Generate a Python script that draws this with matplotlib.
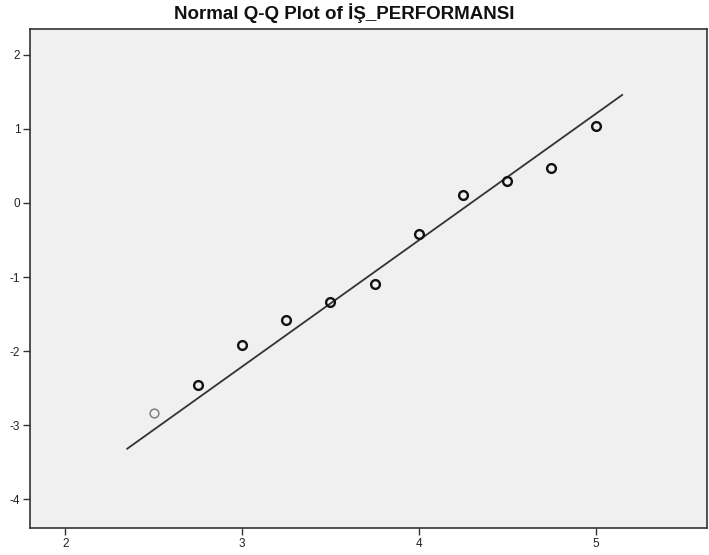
import matplotlib
matplotlib.use("Agg")
import matplotlib.pyplot as plt
import numpy as np

plt.rcParams['font.family'] = ['Liberation Sans', 'DejaVu Sans']
plt.rcParams['axes.unicode_minus'] = False

obs = [2.5, 2.75, 3.0, 3.25, 3.5, 3.75, 4.0, 4.25, 4.5, 4.75, 5.0]
expected = [-2.84, -2.46, -1.92, -1.58, -1.34, -1.09, -0.42, 0.11, 0.30, 0.47, 1.04]
counts = [1, 2, 2, 2, 2, 2, 2, 2, 2, 2, 3]   # overlapping cases -> darker rings

mean, sd = 4.295, 0.586
line_x = [2.35, 5.15]

fig = plt.figure(figsize=(7.09, 5.55), dpi=100)
ax = fig.add_axes([30/709, 27/555, 677/709, 499/555])
ax.set_facecolor('#f0f0f0')

lx = np.array(line_x)
ax.plot(lx, (lx - mean) / sd, color='#333333', lw=1.3, zorder=2)

for x, y, c in zip(obs, expected, counts):
    col = '#777777' if c == 1 else '#111111'
    ax.plot(x, y, 'o', ms=6.3, mfc='none', mec=col, mew=1.0 if c == 1 else 1.7, zorder=3)

ax.set_xlim(1.80, 5.63)
ax.set_ylim(-4.39, 2.35)
ax.set_xticks([2, 3, 4, 5])
ax.set_yticks([-4, -3, -2, -1, 0, 1, 2])
ax.tick_params(direction='out', length=5, width=1, color='#333333', labelsize=8.5, labelcolor='#222222', pad=2)
for s in ax.spines.values():
    s.set_color('#333333')
    s.set_linewidth(1.2)

fig.text(344/709, 1 - 13/555, 'Normal Q-Q Plot of İŞ_PERFORMANSI', ha='center', va='center',
         fontsize=13.5, fontweight='bold', color='#111111')

fig.savefig('out.png', dpi=100)
